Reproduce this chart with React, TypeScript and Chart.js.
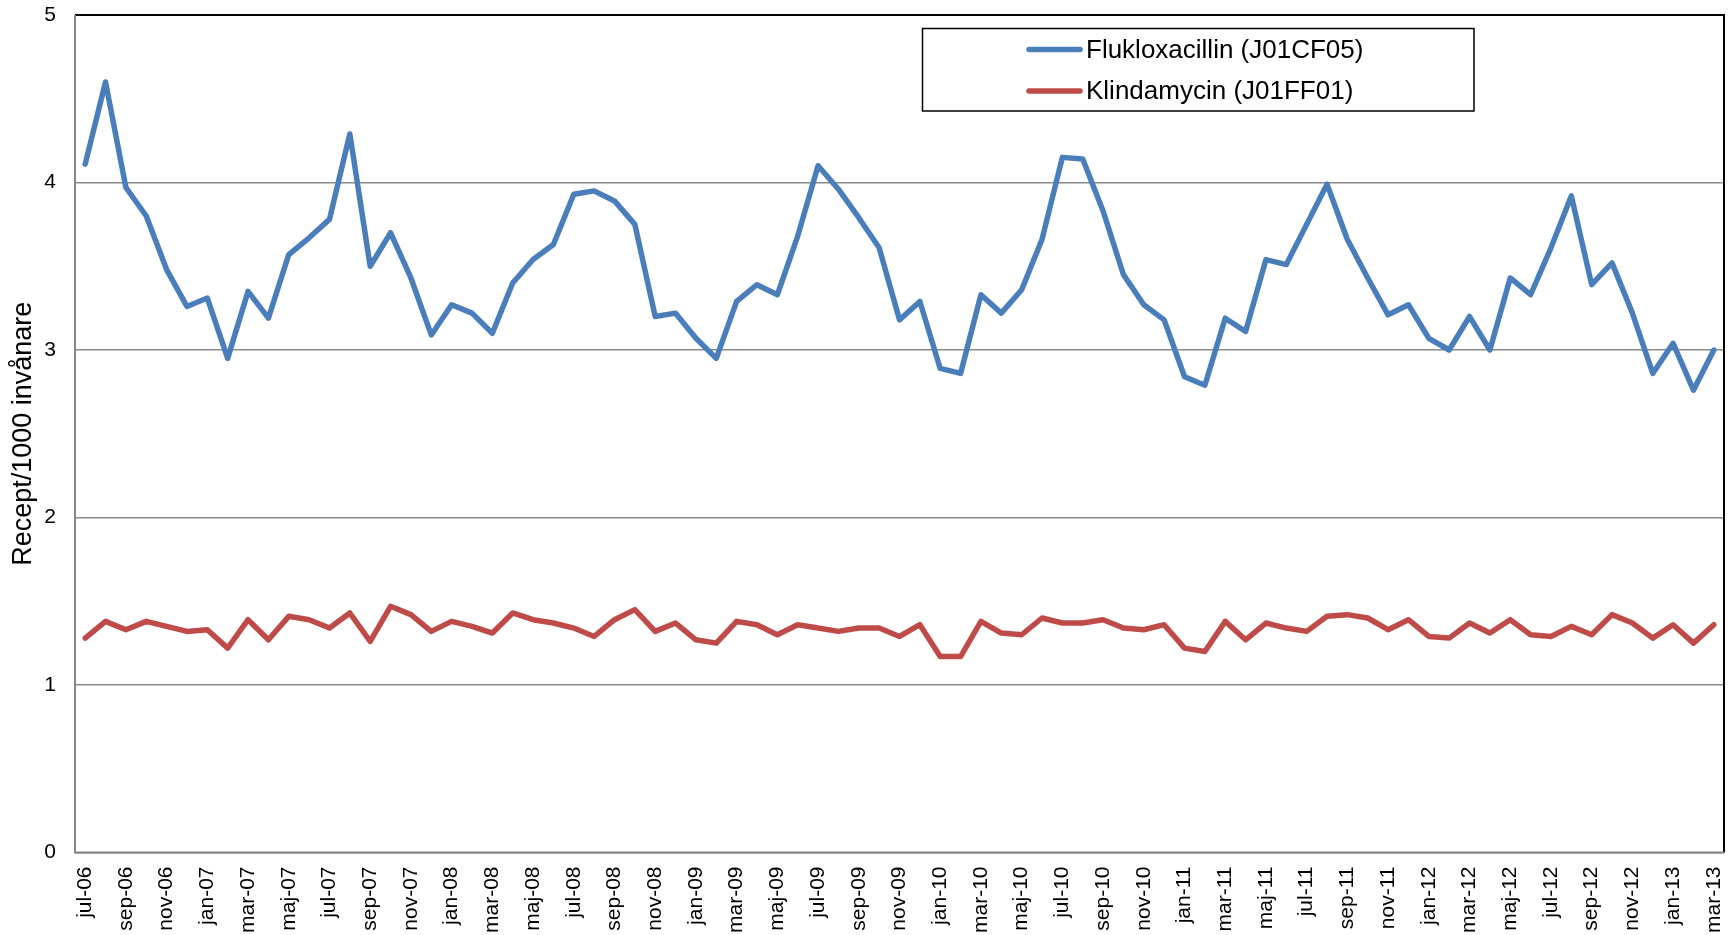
import React, { useEffect, useRef } from 'react';
import { Chart, registerables } from 'chart.js';

Chart.register(...registerables);

const months = [
  'jul-06', 'aug-06', 'sep-06', 'okt-06', 'nov-06', 'dec-06',
  'jan-07', 'feb-07', 'mar-07', 'apr-07', 'maj-07', 'jun-07', 'jul-07', 'aug-07', 'sep-07', 'okt-07', 'nov-07', 'dec-07',
  'jan-08', 'feb-08', 'mar-08', 'apr-08', 'maj-08', 'jun-08', 'jul-08', 'aug-08', 'sep-08', 'okt-08', 'nov-08', 'dec-08',
  'jan-09', 'feb-09', 'mar-09', 'apr-09', 'maj-09', 'jun-09', 'jul-09', 'aug-09', 'sep-09', 'okt-09', 'nov-09', 'dec-09',
  'jan-10', 'feb-10', 'mar-10', 'apr-10', 'maj-10', 'jun-10', 'jul-10', 'aug-10', 'sep-10', 'okt-10', 'nov-10', 'dec-10',
  'jan-11', 'feb-11', 'mar-11', 'apr-11', 'maj-11', 'jun-11', 'jul-11', 'aug-11', 'sep-11', 'okt-11', 'nov-11', 'dec-11',
  'jan-12', 'feb-12', 'mar-12', 'apr-12', 'maj-12', 'jun-12', 'jul-12', 'aug-12', 'sep-12', 'okt-12', 'nov-12', 'dec-12',
  'jan-13', 'feb-13', 'mar-13',
];

const flukloxacillin = [
  4.11, 4.60, 3.97, 3.80, 3.48, 3.26, 3.31, 2.95, 3.35, 3.19,
  3.57, 3.67, 3.78, 4.29, 3.50, 3.70, 3.43, 3.09, 3.27, 3.22,
  3.10, 3.40, 3.54, 3.63, 3.93, 3.95, 3.89, 3.75, 3.20, 3.22,
  3.07, 2.95, 3.29, 3.39, 3.33, 3.68, 4.10, 3.96, 3.79, 3.61,
  3.18, 3.29, 2.89, 2.86, 3.33, 3.22, 3.36, 3.66, 4.15, 4.14,
  3.83, 3.45, 3.27, 3.18, 2.84, 2.79, 3.19, 3.11, 3.54, 3.51,
  3.75, 3.99, 3.66, 3.43, 3.21, 3.27, 3.07, 3.00, 3.20, 3.00,
  3.43, 3.33, 3.61, 3.92, 3.39, 3.52, 3.22, 2.86, 3.04, 2.76,
  3.00,
];

const klindamycin = [
  1.28, 1.38, 1.33, 1.38, 1.35, 1.32, 1.33, 1.22, 1.39, 1.27,
  1.41, 1.39, 1.34, 1.43, 1.26, 1.47, 1.42, 1.32, 1.38, 1.35,
  1.31, 1.43, 1.39, 1.37, 1.34, 1.29, 1.39, 1.45, 1.32, 1.37,
  1.27, 1.25, 1.38, 1.36, 1.30, 1.36, 1.34, 1.32, 1.34, 1.34,
  1.29, 1.36, 1.17, 1.17, 1.38, 1.31, 1.30, 1.40, 1.37, 1.37,
  1.39, 1.34, 1.33, 1.36, 1.22, 1.20, 1.38, 1.27, 1.37, 1.34,
  1.32, 1.41, 1.42, 1.40, 1.33, 1.39, 1.29, 1.28, 1.37, 1.31,
  1.39, 1.30, 1.29, 1.35, 1.30, 1.42, 1.37, 1.28, 1.36, 1.25,
  1.36,
];

const seriesNames = ['Flukloxacillin (J01CF05)', 'Klindamycin (J01FF01)'];
const seriesColors = ['#4A7EBB', '#BE4B48'];
const yAxisTitle = 'Recept/1000 invånare';
const yMin = 0;
const yMax = 5;
const yStep = 1;

const FONT = "'Liberation Sans', Arial, Helvetica, sans-serif";

const frameAndLegend = {
  id: 'frameAndLegend',
  beforeDatasetsDraw(chart: any) {
    const { ctx, chartArea } = chart;
    const { left, right, top, bottom } = chartArea;
    ctx.save();
    ctx.strokeStyle = '#000000';
    ctx.lineWidth = 2;
    ctx.beginPath();
    ctx.moveTo(left, top);
    ctx.lineTo(right, top);
    ctx.lineTo(right, bottom);
    ctx.stroke();
    ctx.strokeStyle = '#868686';
    ctx.lineWidth = 2;
    ctx.beginPath();
    ctx.moveTo(left, top);
    ctx.lineTo(left, bottom);
    ctx.lineTo(right, bottom);
    ctx.stroke();
    ctx.restore();
  },
  afterDraw(chart: any) {
    const { ctx } = chart;
    const boxX = 922.5;
    const boxY = 28.5;
    const boxW = 551.5;
    const boxH = 82.5;
    ctx.save();
    ctx.fillStyle = '#ffffff';
    ctx.fillRect(boxX, boxY, boxW, boxH);
    ctx.strokeStyle = '#000000';
    ctx.lineWidth = 1.5;
    ctx.strokeRect(boxX, boxY, boxW, boxH);
    const rowYs = [49.5, 91];
    chart.data.datasets.forEach((ds: any, i: number) => {
      const y = rowYs[i];
      ctx.strokeStyle = ds.borderColor;
      ctx.lineWidth = 5.5;
      ctx.lineCap = 'round';
      ctx.beginPath();
      ctx.moveTo(1029, y);
      ctx.lineTo(1080, y);
      ctx.stroke();
      ctx.fillStyle = '#000000';
      ctx.font = `26px ${FONT}`;
      ctx.textAlign = 'left';
      ctx.textBaseline = 'middle';
      ctx.fillText(ds.label, 1086, y + 1);
    });
    ctx.restore();
  },
};

export default function App() {
  const canvasRef = useRef<HTMLCanvasElement | null>(null);

  useEffect(() => {
    if (!canvasRef.current) return;
    const chart = new Chart(canvasRef.current, {
      type: 'line',
      data: {
        labels: months,
        datasets: [
          {
            label: seriesNames[0],
            data: flukloxacillin,
            borderColor: seriesColors[0],
            backgroundColor: seriesColors[0],
            borderWidth: 5.5,
            pointRadius: 0,
            tension: 0,
            borderJoinStyle: 'round',
            borderCapStyle: 'round',
          },
          {
            label: seriesNames[1],
            data: klindamycin,
            borderColor: seriesColors[1],
            backgroundColor: seriesColors[1],
            borderWidth: 5.5,
            pointRadius: 0,
            tension: 0,
            borderJoinStyle: 'round',
            borderCapStyle: 'round',
          },
        ],
      },
      options: {
        responsive: false,
        animation: false,
        devicePixelRatio: 1,
        layout: { padding: { top: 15, right: 11, left: 0, bottom: 0 } },
        plugins: {
          legend: { display: false },
          tooltip: { enabled: false },
        },
        scales: {
          x: {
            type: 'category',
            offset: true,
            grid: { display: false, drawTicks: false },
            border: { display: false },
            afterFit: (scale: any) => {
              scale.height = 82.5;
              scale.paddingLeft = 0;
              scale.paddingRight = 0;
            },
            ticks: {
              autoSkip: false,
              maxRotation: 90,
              minRotation: 90,
              padding: 14,
              color: '#000000',
              font: { family: FONT, size: 21 },
              callback: (_v: any, idx: number) => (idx % 2 === 0 ? months[idx] : ''),
            },
          },
          y: {
            min: yMin,
            max: yMax,
            afterFit: (scale: any) => {
              scale.width = 75;
              scale.paddingTop = 0;
              scale.paddingBottom = 0;
            },
            grid: {
              color: '#8a8a8a',
              lineWidth: 1.5,
              drawTicks: false,
            },
            border: { display: false },
            ticks: {
              stepSize: yStep,
              padding: 19,
              color: '#000000',
              font: { family: FONT, size: 21 },
            },
            title: {
              display: true,
              text: yAxisTitle,
              color: '#000000',
              font: { family: FONT, size: 27 },
              padding: { top: 7, bottom: 0 },
            },
          },
        },
      },
      plugins: [frameAndLegend],
    } as any);
    return () => chart.destroy();
  }, []);

  return (
    <div style={{ position: 'absolute', left: 0, top: 0, width: 1735, height: 935, background: '#ffffff' }}>
      <canvas ref={canvasRef} width={1735} height={935} />
    </div>
  );
}
